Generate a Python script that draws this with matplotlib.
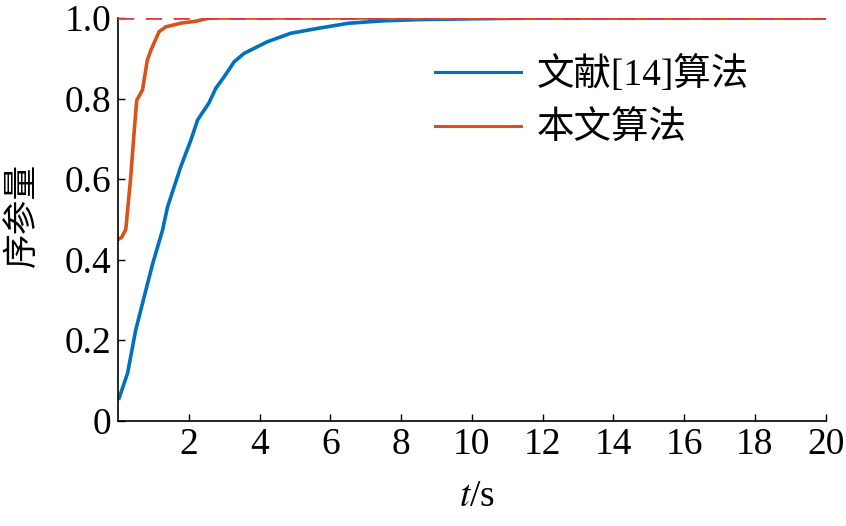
import matplotlib
matplotlib.use("Agg")
import matplotlib.pyplot as plt
import numpy as np

# Data
t_ours = [0.0, 0.1, 0.22, 0.36, 0.46, 0.53, 0.69, 0.83, 0.93, 1.16, 1.35, 1.77, 2.2, 2.53, 2.7, 5, 10, 20]
y_ours = [0.45, 0.455, 0.475, 0.606, 0.722, 0.796, 0.821, 0.896, 0.92, 0.966, 0.978, 0.987, 0.992, 0.999, 1.0, 1.0, 1.0, 1.0]

t_ref = [0.03, 0.27, 0.5, 0.74, 0.98, 1.26, 1.4, 1.77, 2.06, 2.25, 2.57, 2.76, 3.0, 3.28, 3.56, 4.22,
         4.88, 5.63, 6.52, 7.5, 8.5, 10, 11, 12, 20]
y_ref = [0.056, 0.118, 0.225, 0.308, 0.39, 0.474, 0.531, 0.63, 0.697, 0.747, 0.789, 0.825, 0.854,
         0.891, 0.912, 0.941, 0.962, 0.974, 0.987, 0.993, 0.996, 0.998, 0.999, 1.0, 1.0]

x_ticks = [2, 4, 6, 8, 10, 12, 14, 16, 18, 20]
y_ticks = [0, 0.2, 0.4, 0.6, 0.8, 1.0]
y_ticklabels = ["0", "0.2", "0.4", "0.6", "0.8", "1.0"]
labels = ["文献[14]算法", "本文算法"]

plt.rcParams['font.family'] = ['Liberation Serif', 'Noto Sans CJK SC', 'DejaVu Sans']
plt.rcParams['mathtext.fontset'] = 'stix'

fig = plt.figure(figsize=(8.46, 5.26), dpi=100)
ax = fig.add_axes([0.1395, 0.2002, 0.8365, 0.7656])

ax.plot(t_ref, y_ref, color='#0072BD', lw=2.6, label=labels[0])
ax.plot(t_ours, y_ours, color='#D95319', lw=2.6, label=labels[1])
ax.axhline(1.0, color='#E0353B', lw=2.6, ls=(0, (4.5, 3.2)), zorder=3)

ax.set_xlim(0, 20)
ax.set_ylim(0, 1.0)
ax.set_xticks(x_ticks)
ax.set_xticklabels([str(v) for v in x_ticks])
ax.set_yticks(y_ticks)
ax.set_yticklabels(y_ticklabels)
ax.tick_params(direction='in', length=5, width=1, labelsize=27, pad=5)
for s in ['top', 'right']:
    ax.spines[s].set_visible(False)
for s in ['left', 'bottom']:
    ax.spines[s].set_linewidth(1.2)

ax.set_xlabel(r"$t$/s", fontsize=27)
ax.xaxis.set_label_coords(0.508, -0.145)
ax.set_ylabel("序参量", fontsize=25, family=['Noto Sans CJK SC'])
ax.yaxis.set_label_coords(-0.11, 0.51)

leg = ax.legend(loc='upper left', bbox_to_anchor=(0.448, 0.905), frameon=False,
                handlelength=2.3, handletextpad=0.4, labelspacing=0.5,
                borderpad=0, borderaxespad=0,
                prop={'family': ['Liberation Serif', 'Noto Sans CJK SC'], 'size': 27})
for l in leg.get_lines():
    l.set_linewidth(2.2)

fig.savefig("out.png", dpi=100)
